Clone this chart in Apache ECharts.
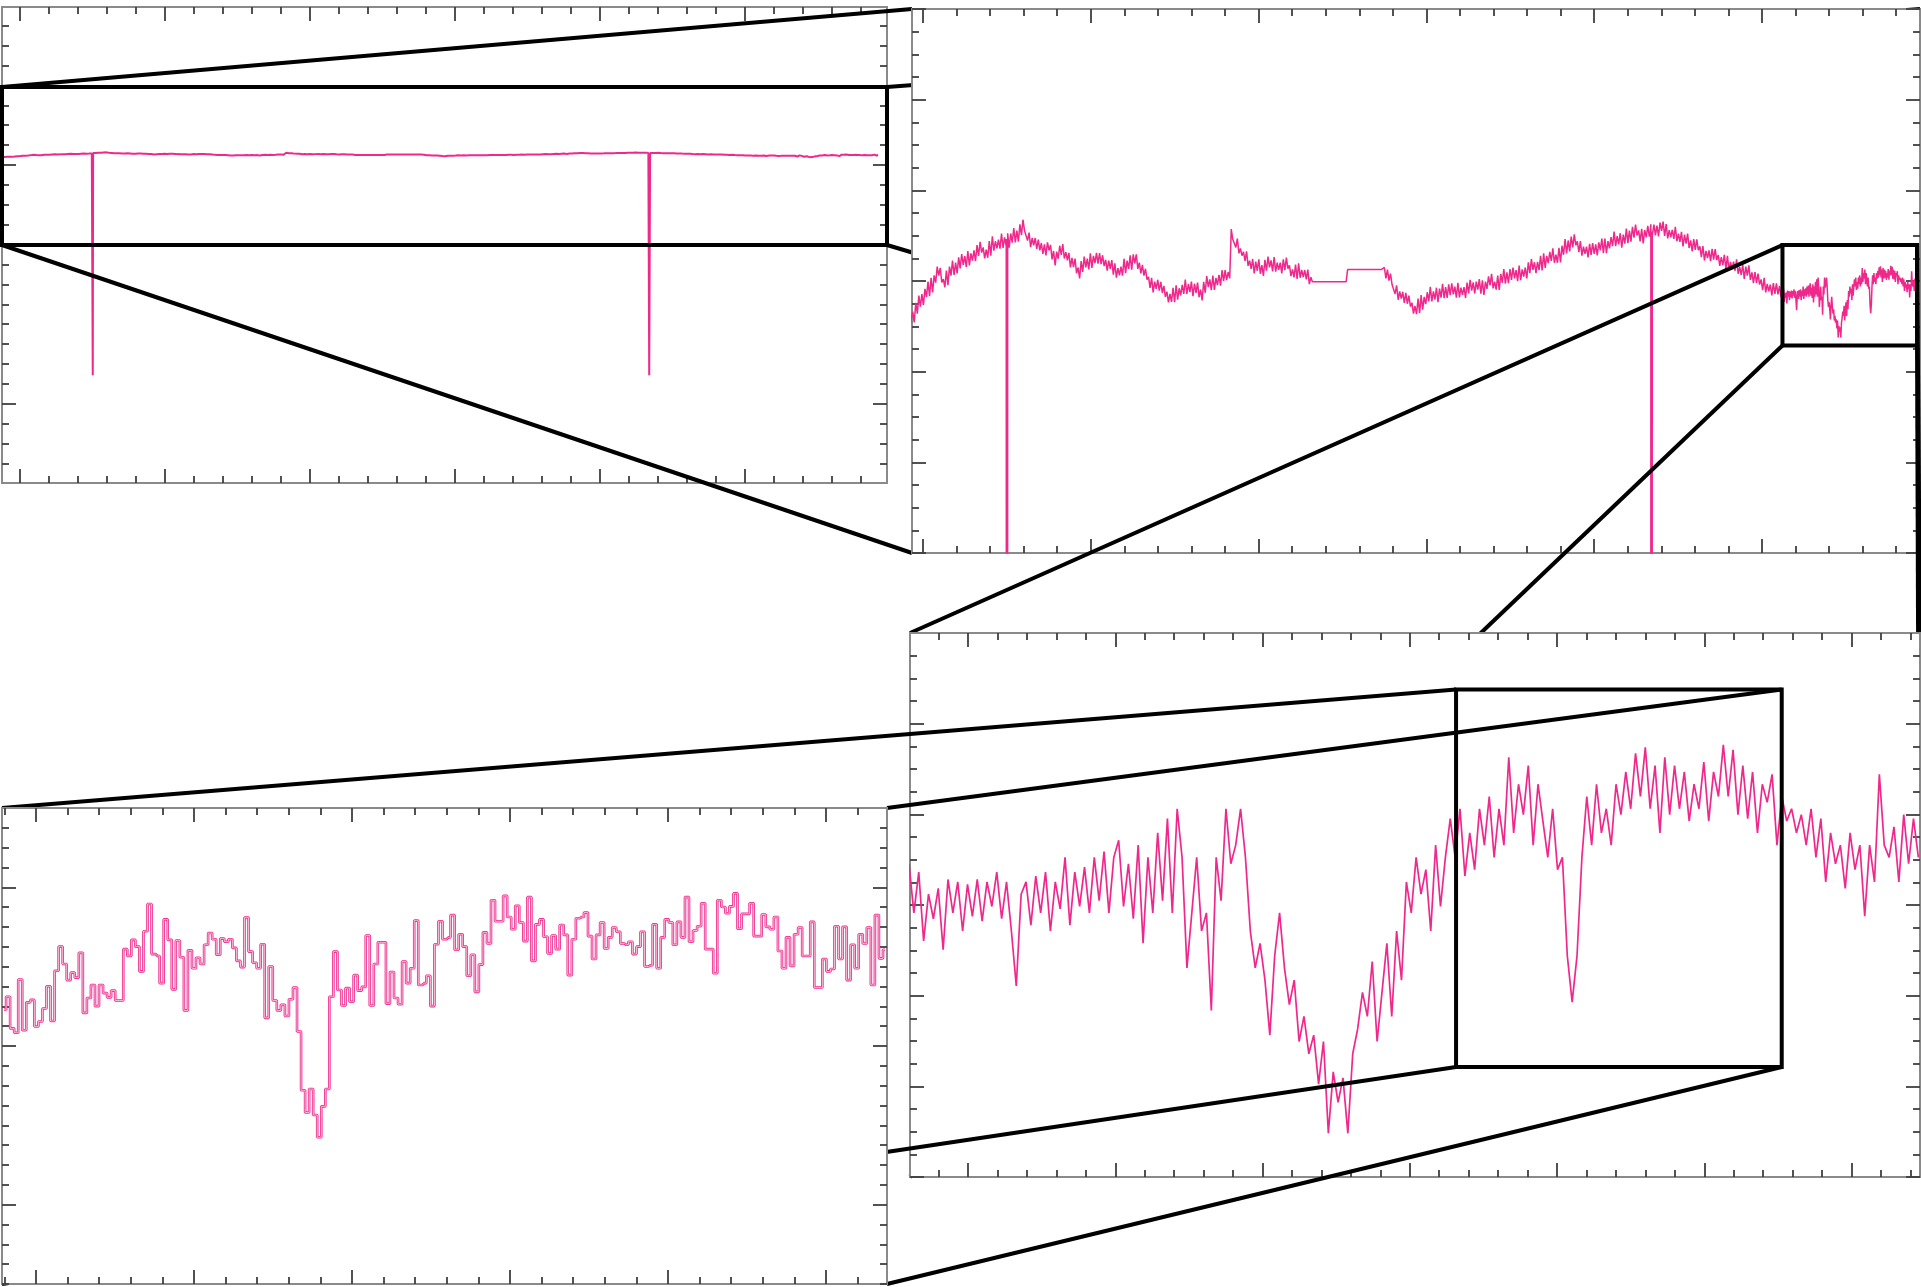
<!DOCTYPE html>
<html>
<head>
<meta charset="utf-8">
<script src="https://cdn.jsdelivr.net/npm/echarts@6.0.0/dist/echarts.min.js"></script>
<style>
  html, body { margin: 0; padding: 0; background: #ffffff; }
  #chart { width: 1921px; height: 1287px; }
</style>
</head>
<body>
<div id="chart"></div>
<script>
// Light curve: time in days, flux as parts-per-thousand offset from the median.

// Long-baseline light curve, regular cadence.
const overviewStart = -0.6264;
const overviewStep = 0.0456325;
const overviewFlux = [
  -4.6, -5.4, -4.9, -5.6, -4.4, -5.1, -4.2,
  -3.37, -4.57, -2.40, -3.60,  -1.62, -2.82, -1.45, -2.65,  -0.87, -1.77, -0.07, -1.67,
  0.34, -1.26, 0.62, -0.18,  1.59, 0.59, 1.45, -0.15,  0.21, -0.69, 1.15, -0.45,
  1.59, 0.59, 2.26, 0.66,  2.03, 0.83, 2.60, 1.40,  2.97, 1.77, 2.74, 1.54,
  3.31, 1.71, 3.05, 2.25,  3.38, 2.18, 3.96, 2.76,  4.33, 3.13, 3.70, 2.50,
  3.46, 2.56, 4.40, 2.80,  4.94, 3.34, 4.40, 3.60,  4.57, 3.57, 5.24, 3.64,
  4.81, 3.91, 5.27, 3.67,  5.24, 4.24, 5.85, 4.25,  5.55, 4.35, 6.25, 5.05,
  6.76, 5.56, 5.65, 4.45,  5.34, 3.74, 4.74, 3.94,  4.74, 3.54, 4.57, 3.37,
  4.19, 2.99, 4.03, 2.83,  4.27, 3.37, 3.99, 2.39,  3.31, 1.71, 3.25, 2.45,
  3.89, 2.89, 4.08, 2.48,  3.18, 2.28, 3.11, 1.51,  2.54, 1.54, 2.46, 0.86,
  1.49, 0.29, 2.20, 1.00,  2.70, 1.50, 2.47, 1.27,  3.04, 1.44, 2.77, 1.97,
  3.11, 1.91, 3.07, 1.87,  2.84, 1.64, 2.34, 1.14,  2.24, 1.34, 2.30, 0.70,
  1.96, 0.36, 1.42, 0.62,  1.59, 0.59, 2.46, 0.86,  2.24, 1.34, 2.84, 1.24,
  2.94, 1.94, 2.93, 1.33,  2.03, 0.83, 1.79, 0.59,  1.35, 0.15, 0.45, -0.75,
  0.34, -1.26, -0.06, -0.86,  0.14, -1.06, -0.10, -1.30,  -0.54, -1.74, -1.17, -2.37,
  -1.41, -2.31, -0.74, -2.34,  -0.47, -2.07, -0.80, -1.60,  -0.43, -1.43, 0.17, -1.43,
  -0.33, -1.23, -0.07, -1.67,  -0.30, -1.30, -0.17, -1.77,  -0.94, -2.14, -0.10, -1.30,
  0.54, -0.66, 0.18, -1.02,  0.61, -0.99, 0.35, -0.45,  0.68, -0.52, 1.19, -0.01,
  1.19, 0.09, 0.99, 0.29,  5.73, 4.60, 4.70, 3.70,  4.67, 3.07, 3.59, 2.79,
  3.21, 2.21, 3.27, 1.67,  2.24, 1.34, 2.43, 0.83,  2.13, 1.13, 2.40, 0.80,
  1.76, 0.56, 2.33, 1.13,  2.70, 1.50, 2.27, 1.07,  2.64, 1.04, 2.03, 1.23,
  2.03, 0.83, 2.40, 1.20,  2.57, 1.37, 1.73, 0.53,  1.29, 0.39, 1.82, 0.22,
  1.96, 0.36, 1.22, 0.42,  1.19, 0.19, 1.25, -0.35,  0.41, -0.09, -0.09, -0.09,
  -0.09, -0.09, -0.09, -0.09,  -0.09, -0.09, -0.09, -0.09,  -0.09, -0.09, -0.09, -0.09,
  -0.09, -0.09, -0.09, -0.09,  -0.09, -0.09, -0.09, -0.09,  1.26, 1.26, 1.26, 1.26,
  1.26, 1.26, 1.26, 1.26,  1.26, 1.26, 1.26, 1.26,  1.26, 1.26, 1.26, 1.26,
  1.26, 1.26, 1.26, 1.26,  1.26, 1.26, 1.26, 1.26,  1.49, 0.29, 1.25, 0.05,
  0.81, -0.39, -0.23, -1.43,  -0.47, -2.07, -1.14, -1.94,  -1.21, -2.41, -1.31, -2.51,
  -1.62, -2.82, -2.39, -3.59,  -2.76, -3.66, -1.95, -3.55,  -1.55, -3.15, -1.75, -2.55,
  -1.24, -2.24, -0.64, -2.24,  -1.14, -2.04, -0.74, -2.34,  -0.84, -1.84, -0.30, -1.90,
  -0.67, -1.87, -0.37, -1.57,  -0.27, -1.47, -0.63, -1.83,  -0.20, -1.80, -0.73, -1.53,
  -0.67, -1.87, -0.17, -1.37,  0.14, -1.06, -0.16, -1.36,  -0.06, -0.96, 0.20, -1.40,
  0.07, -1.53, -0.06, -0.86,  0.51, -0.49, 0.78, -0.82,  -0.06, -0.96, 0.61, -0.99,
  0.78, -0.22, 1.32, -0.28,  0.95, -0.25, 1.32, 0.12,  1.49, 0.29, 1.19, -0.01,
  1.69, 0.09, 1.29, 0.49,  1.49, 0.29, 2.06, 0.86,  2.43, 1.23, 2.07, 0.87,
  2.10, 1.20, 2.77, 1.17,  3.04, 1.44, 2.77, 1.97,  3.21, 2.21, 3.61, 2.01,
  2.91, 2.01, 3.65, 2.05,  3.89, 2.89, 4.63, 3.03,  4.47, 3.27, 4.90, 3.70,
  5.14, 3.94, 4.37, 3.17,  4.40, 2.80, 3.80, 3.00,  3.79, 2.59, 4.09, 2.89,
  4.19, 2.99, 4.03, 2.83,  4.27, 3.37, 4.67, 3.07,  4.67, 3.07, 4.40, 3.60,
  4.84, 3.84, 5.44, 3.84,  4.94, 4.04, 5.27, 3.67,  5.11, 4.11, 5.78, 4.18,
  5.55, 4.35, 5.98, 4.78,  6.22, 5.02, 5.58, 4.38,  5.75, 4.15, 5.62, 4.82,
  6.09, 4.89, 6.25, 5.05,  6.22, 5.02, 6.12, 4.92,  6.43, 5.53, 6.56, 4.96,
  6.29, 4.69, 5.62, 4.82,  5.65, 4.65, 5.98, 4.38,  5.21, 4.31, 5.41, 3.81,
  5.11, 4.11, 5.24, 3.64,  4.47, 3.27, 4.63, 3.43,  4.60, 3.40, 3.83, 2.63,
  3.86, 2.26, 3.32, 2.52,  3.38, 2.18, 3.55, 2.35,  3.51, 2.31, 2.87, 1.67,
  2.64, 1.74, 2.90, 1.30,  2.77, 1.17, 2.10, 1.30,  2.13, 1.13, 2.40, 0.80,
  1.56, 0.66, 1.82, 0.22,  1.59, 0.59, 1.72, 0.12,  0.95, -0.25, 0.98, -0.22,
  0.81, -0.39, 0.18, -1.02,  0.34, -1.26, -0.33, -1.13,  -0.40, -1.60, -0.23, -1.43,
  -0.27, -1.47, -0.55, -1.75
];

// Two deep, short eclipses.
const eclipseTime = [2.51, 21.70];
const eclipseDepth = [-553, -553];
const eclipseLevel = [4.64, 5.45];
const eclipseHalfWidth = 0.03;

// Final stretch at full cadence.
const detailStart = 25.606;
const detailStep = 0.01936;
const detailFlux = [
  -0.74, -1.74, -0.91, -2.31, -1.36, -1.86, -1.24, -2.49, -1.06, -1.74,
  -1.11, -2.11, -1.16, -1.81, -1.06, -1.91, -1.11, -1.61, -0.91, -1.86,
  -1.11, -2.11, -3.23, -1.36, -1.11, -1.99, -0.99, -1.74, -0.91, -2.11,
  -1.11, -1.66, -0.61, -1.99, -0.91, -1.61, -0.81, -1.74, -0.61, -1.49,
  -0.49, -1.74, -0.61, -0.26, -1.61, -0.74, -1.86, -0.36, -2.36, -0.61,
  -1.74, -0.11, -1.49, 0.18, -1.74, 0.38, -0.61, -2.86, -1.74, -0.61,
  -2.11, -1.74, -3.73, -0.61, -1.49, 0.38, -0.74, -0.36, 0.38, -0.61,
  -2.11, -2.86, -2.36, -3.11, -4.23, -2.61, -1.74, -2.86, -3.61, -3.11,
  -4.36, -3.85, -4.61, -4.23, -5.23, -4.36, -6.23, -4.98, -5.60, -5.10,
  -6.23, -4.61, -4.11, -3.36, -3.85, -2.73, -4.36, -3.36, -2.36, -3.85,
  -2.11, -3.11, -1.11, -1.74, -0.61, -1.36, -0.86, -2.11, -0.36, -1.61,
  -0.61, 0.18, -0.61, 0.38, -0.99, -0.11, -0.86, 0.38, -0.36, 0.63,
  -0.61, 0.38, -0.36, 1.43, -0.11, 0.88, 0.26, 1.26, -0.36, 0.88,
  0.13, -0.61, 0.38, -0.86, -0.61, -2.61, -3.56, -2.61, -0.61, 0.63,
  -0.36, 0.88, -0.11, 0.38, -0.36, 0.88, 0.26, 1.13, 0.38, 1.51,
  0.63, 1.63, 0.38, 1.26, -0.11, 1.43, 0.26, 1.26, 0.38, 1.13,
  0.13, 0.88, 0.38, 1.33, 0.13, 1.13, 0.63, 1.68, 0.63, 1.58,
  0.26, 1.26, 0.18, 1.13, -0.11, 0.88, 0.51, 1.08, -0.36, 0.63,
  0.13, 0.38, -0.11, 0.26, -0.36, 0.38, -0.61, 0.18, -1.11, -0.11,
  -0.74, -0.36, -1.24, -0.11, -0.86, -0.36, -1.81, -0.36, -1.11, 1.08,
  -0.36, -0.61, 0.01, -1.11, 0.26, -0.74, 0.18, -0.61
];

// Binned flux around the shallow dip (bin centres on a regular grid).
const binnedStart = 27.781;
const binnedStep = 0.005904;
const binnedFlux = [
  -0.45, -0.24, -0.75, -0.82, 0.04, -0.78, -0.33, -0.29, -0.72, -0.64,
  -0.43, -0.07, -0.63, 0.18, 0.57, 0.29, 0.03, 0.15, 0.07, 0.47,
  -0.50, -0.26, -0.05, -0.39, -0.05, -0.18, -0.25, -0.14, -0.30, -0.30,
  0.53, 0.42, 0.68, 0.57, 0.17, 0.82, 1.26, 0.45, 0.42, -0.02,
  1.01, 0.68, -0.12, 0.67, 0.40, -0.46, 0.51, 0.22, 0.39, 0.29,
  0.60, 0.79, 0.69, 0.44, 0.70, 0.65, 0.69, 0.55, 0.34, 0.24,
  1.04, 0.49, 0.31, 0.22, 0.61, -0.58, 0.25, -0.30, -0.46, -0.37,
  -0.55, -0.28, -0.09, -0.80, -1.75, -2.11, -1.73, -2.15, -2.51, -2.01,
  -1.73, -0.24, 0.49, -0.13, -0.38, -0.10, -0.32, 0.11, -0.14, -0.08,
  0.75, -0.38, 0.29, 0.64, 0.64, -0.35, 0.16, -0.26, -0.36, 0.33,
  -0.02, 0.22, 0.99, -0.05, -0.02, 0.10, -0.39, 0.61, 0.98, 0.69,
  0.72, 1.08, 0.52, 0.77, 0.57, 0.10, 0.44, -0.16, 0.28, 0.80,
  0.62, 1.32, 0.98, 0.98, 1.39, 1.05, 0.85, 1.23, 0.96, 0.66,
  1.37, 0.34, 0.93, 1.01, 0.73, 0.46, 0.75, 0.53, 0.92, 0.76,
  0.11, 0.69, 1.03, 1.05, 1.12, 0.74, 0.37, 0.76, 0.96, 0.54,
  0.72, 0.88, 0.81, 0.62, 0.60, 0.65, 0.45, 0.57, 0.81, 0.25,
  0.27, 0.93, 0.22, 0.72, 1.01, 0.96, 0.60, 0.97, 0.72, 1.37,
  0.65, 0.83, 0.90, 1.27, 0.53, 0.53, 0.14, 1.32, 1.21, 1.11,
  1.22, 1.43, 0.86, 1.10, 1.10, 1.27, 0.74, 0.74, 1.09, 0.89,
  0.85, 1.05, 0.50, 0.22, 0.72, 0.26, 0.77, 0.88, 0.42, 0.42,
  0.97, -0.09, -0.09, 0.37, 0.17, 0.21, 0.90, 0.37, 0.89, 0.03,
  0.60, 0.22, 0.77, 0.62, 0.88, -0.05, 1.08, 0.38, 0.52
];

// Axis windows of the four panels (days, ppt).
const panelTime = [[-0.62, 29.90], [-0.328, 29.708], [25.61, 29.62], [27.778, 29.071]];
const panelFlux = [[-824, 372], [-30, 30], [-7.12, 3.96], [-4.88, 2.81]];

// Out-of-eclipse band marked in the full view.
const baselineBand = [-226, 171];

// ---------------------------------------------------------------- layout
const PINK = '#f0288c';
const FRAME = '#8a8a8a';
const TICK = '#3f3f3f';
const MAJOR_LEN = 14, MINOR_LEN = 7;

const panelBoxes = [
  { left: 2,   top: 7,   width: 885,  height: 476 },
  { left: 912, top: 9,   width: 1008, height: 544 },
  { left: 910, top: 633, width: 1010, height: 544 },
  { left: 2,   top: 808, width: 885,  height: 476 }
];

// Tick layout per panel: first tick value, spacing, which tick is the first major, majors every n.
const timeTicks = [
  { from: 0, step: 1, phase: 0, every: 5 },
  { from: 0, step: 1, phase: 0, every: 5 },
  { from: 25.7236, step: 0.11692, phase: 1, every: 5 },
  { from: 27.7815, step: 0.046168, phase: 1, every: 5 }
];
const fluxTicks = [
  { from: -825, step: 50, phase: 4, every: 12 },
  { from: -30, step: 2.5, phase: 0, every: 4 },
  { from: -7.12, step: 0.461667, phase: 0, every: 4 },
  { from: -4.88, step: 0.320417, phase: 4, every: 8 }
];

// Zoom windows drawn inside panels 0..2; each one is blown up in the next panel.
const zoomWindows = [
  { time: panelTime[0], flux: baselineBand },
  { time: panelTime[2], flux: panelFlux[2] },
  { time: panelTime[3], flux: panelFlux[3] }
];

function onRegularGrid(start, step, values) {
  return values.map((v, i) => [+(start + i * step).toFixed(5), v]);
}

const lightCurve = onRegularGrid(overviewStart, overviewStep, overviewFlux)
  .concat(onRegularGrid(detailStart, detailStep, detailFlux));
eclipseTime.forEach((t, i) => {
  lightCurve.push([t - eclipseHalfWidth, eclipseLevel[i]]);
  lightCurve.push([t, eclipseDepth[i]]);
  lightCurve.push([t + eclipseHalfWidth, eclipseLevel[i]]);
});
lightCurve.sort((a, b) => a[0] - b[0]);

const binned = onRegularGrid(binnedStart, binnedStep, binnedFlux);

function tickSets(spec, range) {
  const major = [], minor = [];
  for (let k = 0; k < 1000; k++) {
    const v = spec.from + k * spec.step;
    if (v > range[1] + 1e-9) break;
    if (v < range[0] - 1e-9) continue;
    ((k - spec.phase) % spec.every === 0 ? major : minor).push(+v.toFixed(6));
  }
  return { major, minor };
}

function makeAxis(gridIndex, position, range, values, len, z) {
  return {
    type: 'value', gridIndex, position, min: range[0], max: range[1], z,
    axisLine: { show: false, onZero: false },
    axisLabel: { show: false },
    splitLine: { show: false },
    axisPointer: { show: false },
    axisTick: {
      show: true, inside: true, length: len, customValues: values,
      lineStyle: { color: TICK, width: 1.8 }
    }
  };
}

const grids = [], xAxes = [], yAxes = [];
panelBoxes.forEach((box, k) => {
  const base = 10 * k;
  grids.push(Object.assign({
    show: true, backgroundColor: '#ffffff', borderColor: FRAME, borderWidth: 2,
    containLabel: false, z: base
  }, box));
  const tx = tickSets(timeTicks[k], panelTime[k]);
  const ty = tickSets(fluxTicks[k], panelFlux[k]);
  xAxes.push(
    makeAxis(k, 'bottom', panelTime[k], tx.major, MAJOR_LEN, base + 1),
    makeAxis(k, 'top', panelTime[k], tx.major, MAJOR_LEN, base + 1),
    makeAxis(k, 'bottom', panelTime[k], tx.minor, MINOR_LEN, base + 1),
    makeAxis(k, 'top', panelTime[k], tx.minor, MINOR_LEN, base + 1)
  );
  yAxes.push(
    makeAxis(k, 'left', panelFlux[k], ty.major, MAJOR_LEN, base + 1),
    makeAxis(k, 'right', panelFlux[k], ty.major, MAJOR_LEN, base + 1),
    makeAxis(k, 'left', panelFlux[k], ty.minor, MINOR_LEN, base + 1),
    makeAxis(k, 'right', panelFlux[k], ty.minor, MINOR_LEN, base + 1)
  );
});

function lineSeries(k, data, width, color, extra) {
  return Object.assign({
    type: 'line', xAxisIndex: 4 * k, yAxisIndex: 4 * k, data,
    showSymbol: false, symbol: 'none', silent: true, clip: true,
    animation: false, z: 10 * k + 2,
    lineStyle: { color, width },
    emphasis: { disabled: true }
  }, extra || {});
}

const chart = echarts.init(document.getElementById('chart'), null, { renderer: 'canvas' });
chart.setOption({
  animation: false,
  backgroundColor: '#ffffff',
  grid: grids,
  xAxis: xAxes,
  yAxis: yAxes,
  series: [
    lineSeries(0, lightCurve, 2, PINK),
    lineSeries(1, lightCurve, 1.5, PINK),
    lineSeries(2, lightCurve, 1.7, PINK),
    lineSeries(3, binned, 2.6, PINK, { step: 'middle' }),
    lineSeries(3, binned, 0.9, '#f9cfe3', { step: 'middle', z: 33 })
  ]
});

// Zoom boxes and the connector lines that lead to the enlarged panel.
function panelCorners(k) {
  const a = chart.convertToPixel({ gridIndex: k }, [panelTime[k][0], panelFlux[k][1]]);
  const b = chart.convertToPixel({ gridIndex: k }, [panelTime[k][1], panelFlux[k][0]]);
  return { l: a[0], t: a[1], r: b[0], b: b[1] };
}

const overlay = [];
zoomWindows.forEach((w, k) => {
  const tl = chart.convertToPixel({ gridIndex: k }, [w.time[0], w.flux[1]]);
  const br = chart.convertToPixel({ gridIndex: k }, [w.time[1], w.flux[0]]);
  const target = panelCorners(k + 1);
  const z = 10 * k + 5;
  overlay.push({
    type: 'rect', z, silent: true,
    shape: { x: tl[0], y: tl[1], width: br[0] - tl[0], height: br[1] - tl[1] },
    style: { fill: 'none', stroke: '#000000', lineWidth: 4 }
  });
  [
    [tl[0], tl[1], target.l, target.t],
    [br[0], tl[1], target.r, target.t],
    [tl[0], br[1], target.l, target.b],
    [br[0], br[1], target.r, target.b]
  ].forEach(s => overlay.push({
    type: 'line', z, silent: true,
    shape: { x1: s[0], y1: s[1], x2: s[2], y2: s[3] },
    style: { stroke: '#000000', lineWidth: 4 }
  }));
});
chart.setOption({ graphic: overlay });
</script>
</body>
</html>
